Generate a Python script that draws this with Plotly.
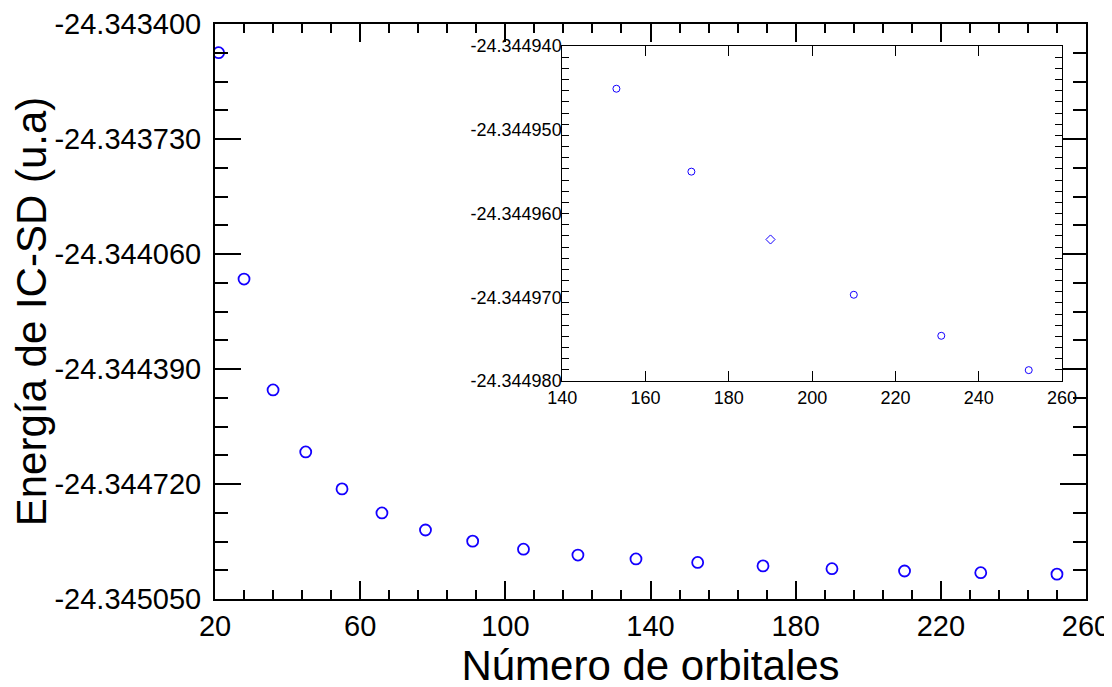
import plotly.graph_objects as go

# ---- data ----
orbitales = [21, 28, 36, 45, 55, 66, 78, 91, 105, 120, 136, 153, 171, 190, 210, 231, 252]
energia = [-24.3434824, -24.344132, -24.344450, -24.344628, -24.344734, -24.344803,
           -24.344852, -24.344884, -24.344907, -24.344924, -24.344935, -24.3449451,
           -24.344955, -24.3449631, -24.3449697, -24.3449746, -24.3449787]

inset_orbitales = [153, 171, 190, 210, 231, 252]
inset_energia = [-24.3449451, -24.344955, -24.3449631, -24.3449697, -24.3449746, -24.3449787]

main_xticks = [20, 60, 100, 140, 180, 220, 260]
main_yticks = [-24.345050, -24.344720, -24.344390, -24.344060, -24.343730, -24.343400]
main_yticktext = ["-24.345050", "-24.344720", "-24.344390", "-24.344060", "-24.343730", "-24.343400"]

inset_xticks = [140, 160, 180, 200, 220, 240, 260]
inset_yticks = [-24.344980, -24.344970, -24.344960, -24.344950, -24.344940]
inset_yticktext = ["-24.344980", "-24.344970", "-24.344960", "-24.344950", "-24.344940"]

x_title = "Número de orbitales"
y_title = "Energía de IC-SD (u.a)"

# ---- styles ----
BLUE = "rgb(20,0,255)"
FONT = "Liberation Sans, Arial, sans-serif"
NARROW = "Liberation Sans Narrow, Arial Narrow, Liberation Sans, sans-serif"
inset_symbols = ["circle-open", "circle-open", "diamond-open", "circle-open", "circle-open", "circle-open"]

fig = go.Figure()
fig.add_trace(go.Scatter(
    x=orbitales, y=energia, mode="markers", xaxis="x", yaxis="y",
    marker=dict(symbol="circle-open", size=11, color=BLUE, line=dict(width=1.8, color=BLUE)),
    showlegend=False))
fig.add_trace(go.Scatter(
    x=inset_orbitales, y=inset_energia, mode="markers", xaxis="x2", yaxis="y2",
    marker=dict(symbol=inset_symbols, size=7, color=BLUE, line=dict(width=1, color=BLUE)),
    showlegend=False))

main_ax = dict(showline=True, linewidth=2, linecolor="black", mirror="allticks", automargin=False,
               showgrid=False, zeroline=False, ticks="inside", tickwidth=2, tickcolor="black",
               tickfont=dict(family=FONT, size=29, color="black"))

# the page body adds an 8px offset; margins compensate so the plot frame lands where the reference has it
fig.update_layout(
    width=1112, height=687,
    margin=dict(l=207, r=34, t=16, b=96, autoexpand=False),
    paper_bgcolor="white", plot_bgcolor="white",
    xaxis=dict(**main_ax, domain=[0, 1], anchor="y", range=[20, 260],
               tickmode="array", tickvals=main_xticks, ticklen=18,
               minor=dict(ticks="inside", tick0=20, dtick=8, ticklen=9, tickwidth=2, tickcolor="black"),
               ticklabelstandoff=0,
               title=dict(text=x_title, font=dict(family=FONT, size=42, color="black"), standoff=0)),
    yaxis=dict(**main_ax, domain=[0, 1], anchor="x", range=[-24.345050, -24.343400],
               tickmode="array", tickvals=main_yticks, ticktext=main_yticktext, ticklen=26,
               minor=dict(ticks="inside", tick0=-24.345050, dtick=0.0000825, ticklen=13, tickwidth=2, tickcolor="black"),
               ticklabelstandoff=6,
               title=dict(text=y_title, font=dict(family=FONT, size=42, color="black"), standoff=14)),
    xaxis2=dict(domain=[0.3987, 0.9725], anchor="y2", range=[140, 260], automargin=False,
                showline=True, linewidth=1, linecolor="black", mirror="ticks",
                showgrid=False, zeroline=False, ticks="inside", ticklen=10, tickwidth=1, tickcolor="black",
                tickmode="array", tickvals=inset_xticks,
                tickfont=dict(family=NARROW, size=18, color="black")),
    yaxis2=dict(domain=[0.3791, 0.9617], anchor="x2", range=[-24.344980, -24.344940], automargin=False,
                showline=True, linewidth=1, linecolor="black", mirror="ticks",
                showgrid=False, zeroline=False, ticks="inside", ticklen=0, tickwidth=1, tickcolor="black",
                tickmode="array", tickvals=inset_yticks, ticktext=inset_yticktext,
                minor=dict(ticks="inside", tick0=-24.344980, dtick=0.00004 / 30, ticklen=7, tickwidth=1, tickcolor="black"),
                ticklabelstandoff=-4,
                tickfont=dict(family=NARROW, size=18, color="black")),
    yaxis3=dict(overlaying="y2", anchor="x2", range=[-24.344980, -24.344940], automargin=False,
                showline=False, mirror="ticks", showgrid=False, zeroline=False,
                ticks="inside", ticklen=15, tickwidth=1, tickcolor="black",
                tickmode="linear", tick0=-24.344980, dtick=0.00004 / 6, showticklabels=False),
)

fig.write_html("out.html")
